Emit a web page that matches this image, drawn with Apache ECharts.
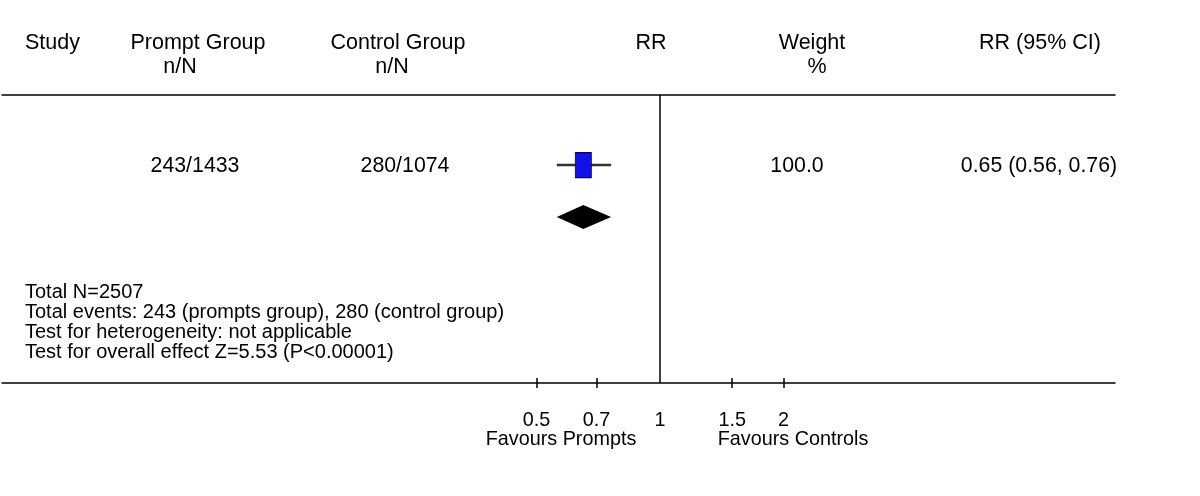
<!DOCTYPE html>
<html>
<head>
<meta charset="utf-8">
<script src="https://cdn.jsdelivr.net/npm/echarts@6/dist/echarts.min.js"></script>
<style>
html, body { margin: 0; background: #fff; }
#chart { width: 1200px; height: 496px; }
</style>
</head>
<body>
<div id="chart"></div>
<script>
// table text
var headTop = ['Study', 'Prompt Group', 'Control Group', 'RR', 'Weight', 'RR (95% CI)'];
var headSub = ['', 'n/N', 'n/N', '', '%', ''];
var studyCells = ['', '243/1433', '280/1074', '', '100.0', '0.65 (0.56, 0.76)'];
var footLines = [
    'Total N=2507',
    'Total events: 243 (prompts group), 280 (control group)',
    'Test for heterogeneity: not applicable',
    'Test for overall effect Z=5.53 (P<0.00001)'
];
var favours = ['Favours Prompts', 'Favours Controls'];

// estimates (risk ratio, lower, upper)
var studyRR = [0.65, 0.56, 0.76];
var pooledRR = [0.65, 0.56, 0.76];

// axis ticks
var tickVals = [0.5, 0.7, 1.5, 2];
var labelVals = [0.5, 0.7, 1, 1.5, 2];

// layout only
var FONT = 'Liberation Sans, Arial, sans-serif';
var headX = [25, 198, 398, 651, 812, 1040];
var subX = [0, 180, 392, 0, 817, 0];
var cellX = [0, 195, 405, 0, 797, 1039];
var favX = [561, 793];
var ROW_STUDY = 70, ROW_POOL = 122;    // y units below the top rule
var LO = -3.6966, HI = 2.5562;         // ln range of the plot width

var ln = Math.log;

function txt(s, x, y, size, align) {
    return {
        type: 'text', x: x, y: y, silent: true,
        style: {
            text: s, fill: '#000', font: size + 'px ' + FONT,
            align: align, verticalAlign: 'middle',
            textAlign: align, textVerticalAlign: 'middle'
        }
    };
}

var graphics = [];
headTop.forEach(function (s, i) {
    graphics.push(txt(s, headX[i], 43, 21.5, i == 0 ? 'left' : 'center'));
});
headSub.forEach(function (s, i) {
    if (s) graphics.push(txt(s, subX[i], 67, 21.5, 'center'));
});
studyCells.forEach(function (s, i) {
    if (s) graphics.push(txt(s, cellX[i], 166, 21.3, 'center'));
});
footLines.forEach(function (s, i) {
    graphics.push(txt(s, 25, 292 + i * 20, 20, 'left'));
});
favours.forEach(function (s, i) {
    graphics.push(txt(s, favX[i], 440, 19.8, 'center'));
});

var chart = echarts.init(document.getElementById('chart'));

var baseAxis = { type: 'value', min: LO, max: HI, splitLine: { show: false } };

var option = {
    animation: false,
    grid: { left: 2, right: 85, top: 95, bottom: 113 },
    xAxis: [
        Object.assign({}, baseAxis, {
            position: 'bottom',
            axisLine: { onZero: false, lineStyle: { color: '#000', width: 1.5 } },
            axisTick: { show: true, inside: false, length: 5, lineStyle: { color: '#000', width: 1.5 },
                        customValues: tickVals.map(ln) },
            axisLabel: {
                show: true, margin: 28, color: '#000', fontSize: 19.8, fontFamily: FONT,
                customValues: labelVals.map(ln),
                formatter: function (v) { return String(+Math.exp(v).toFixed(1)); }
            }
        }),
        Object.assign({}, baseAxis, {
            position: 'bottom',
            axisLine: { show: false, onZero: false },
            axisTick: { show: true, inside: true, length: 5, lineStyle: { color: '#000', width: 1.5 },
                        customValues: tickVals.map(ln) },
            axisLabel: { show: false }
        }),
        Object.assign({}, baseAxis, {
            position: 'top',
            axisLine: { onZero: false, lineStyle: { color: '#000', width: 1.5 } },
            axisTick: { show: false },
            axisLabel: { show: false }
        })
    ],
    yAxis: { type: 'value', inverse: true, min: 0, max: 288, show: false },
    series: [
        {
            // study CI whisker + line of no effect
            type: 'line', symbol: 'none',
            data: [[ln(studyRR[1]), ROW_STUDY], [ln(studyRR[2]), ROW_STUDY]],
            lineStyle: { color: '#333', width: 2.5 },
            markLine: {
                silent: true, symbol: 'none', label: { show: false },
                lineStyle: { color: '#000', width: 1.5, type: 'solid' },
                data: [{ xAxis: ln(1) }]
            },
            z: 2
        },
        {
            type: 'scatter', symbol: 'rect', symbolSize: [16, 25],
            data: [[ln(studyRR[0]), ROW_STUDY]],
            itemStyle: { color: '#1212e8', borderColor: '#00006e', borderWidth: 1, opacity: 1 },
            z: 3
        },
        {
            type: 'custom',
            data: [[ln(pooledRR[0]), ROW_POOL, ln(pooledRR[1]), ln(pooledRR[2])]],
            encode: { x: 0, y: 1 },
            renderItem: function (params, api) {
                var c = api.coord([api.value(0), api.value(1)]);
                var l = api.coord([api.value(2), api.value(1)]);
                var r = api.coord([api.value(3), api.value(1)]);
                var h = 12;
                return {
                    type: 'polygon',
                    shape: { points: [[l[0], c[1]], [c[0], c[1] - h], [r[0], c[1]], [c[0], c[1] + h]] },
                    style: { fill: '#000' }
                };
            },
            z: 3
        }
    ],
    graphic: graphics
};

chart.setOption(option);
</script>
</body>
</html>
